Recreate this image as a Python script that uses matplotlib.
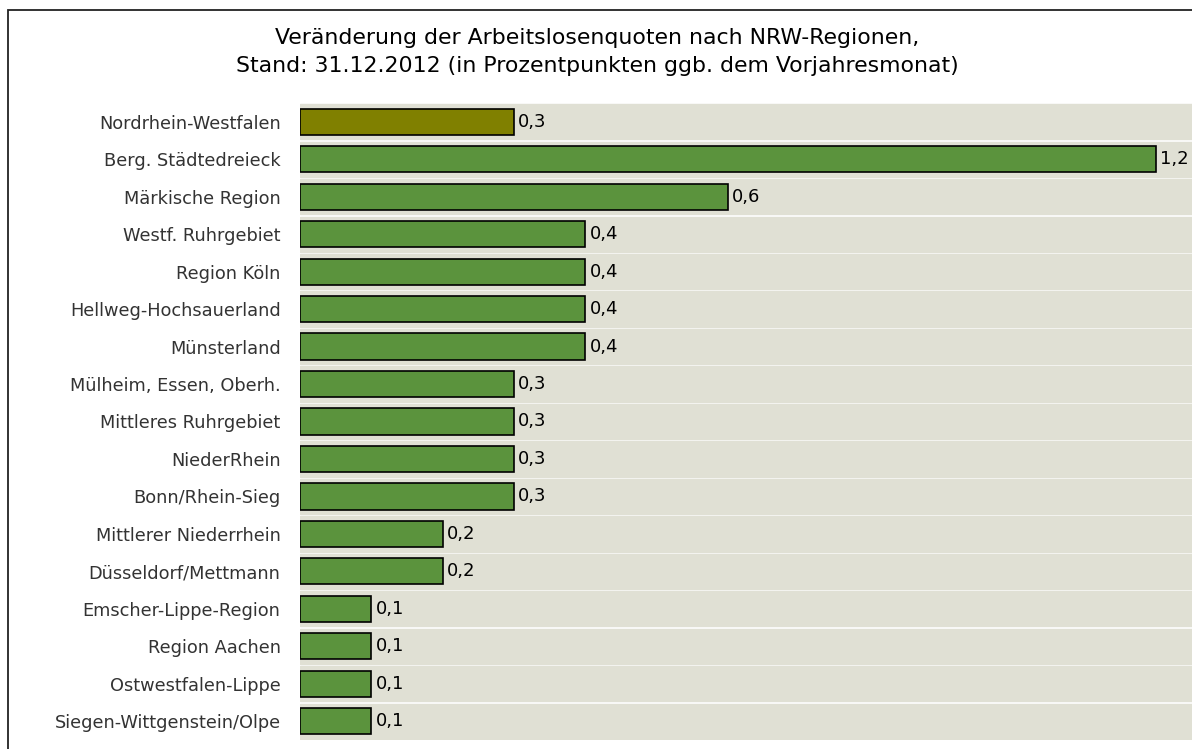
import matplotlib
matplotlib.use('Agg')
import matplotlib.pyplot as plt
from matplotlib.patches import Rectangle

regions = ["Nordrhein-Westfalen", "Berg. Städtedreieck", "Märkische Region",
           "Westf. Ruhrgebiet", "Region Köln", "Hellweg-Hochsauerland",
           "Münsterland", "Mülheim, Essen, Oberh.", "Mittleres Ruhrgebiet",
           "NiederRhein", "Bonn/Rhein-Sieg", "Mittlerer Niederrhein",
           "Düsseldorf/Mettmann", "Emscher-Lippe-Region", "Region Aachen",
           "Ostwestfalen-Lippe", "Siegen-Wittgenstein/Olpe"]
values = [0.3, 1.2, 0.6, 0.4, 0.4, 0.4, 0.4, 0.3, 0.3, 0.3, 0.3,
          0.2, 0.2, 0.1, 0.1, 0.1, 0.1]

title = ("Veränderung der Arbeitslosenquoten nach NRW-Regionen,\n"
         "Stand: 31.12.2012 (in Prozentpunkten ggb. dem Vorjahresmonat)")

plt.rcParams['font.family'] = ['DejaVu Sans']

fig = plt.figure(figsize=(11.92, 7.49), dpi=100)

# outer frame
fig.patches.append(Rectangle((8/1192, -0.1), 1.2, (749-10)/749 + 0.1,
                             transform=fig.transFigure, fill=False,
                             edgecolor='#222222', linewidth=1.3))

ax = fig.add_axes([300/1192, 9/749, 892/1192, 637/749])
n = len(regions)
xmax = 892/713.0

for i in range(n):
    ax.axhspan(i - 0.47, i + 0.47, color='#e0e0d4', zorder=0)

colors = ['#808000'] + ['#5b933d'] * (n - 1)
ax.barh(range(n), values, height=0.7, color=colors, edgecolor='black',
        linewidth=1.2, zorder=2)
for i, v in enumerate(values):
    ax.text(v + 0.006, i, ("%.1f" % v).replace('.', ','), va='center',
            ha='left', fontsize=13, color='black', zorder=3)

ax.set_xlim(0, xmax)
ax.set_ylim(n - 0.5, -0.5)
ax.set_yticks(range(n))
ax.set_yticklabels(regions, fontsize=12.8, color='#333333')
ax.tick_params(axis='y', length=0, pad=14)
ax.set_xticks([])
for s in ax.spines.values():
    s.set_visible(False)
ax.patch.set_alpha(0)

fig.text(597/1192, 1 - 52/749, title, ha='center', va='center',
         fontsize=15.8, linespacing=1.45, color='black')

fig.savefig('out.png', dpi=100)
